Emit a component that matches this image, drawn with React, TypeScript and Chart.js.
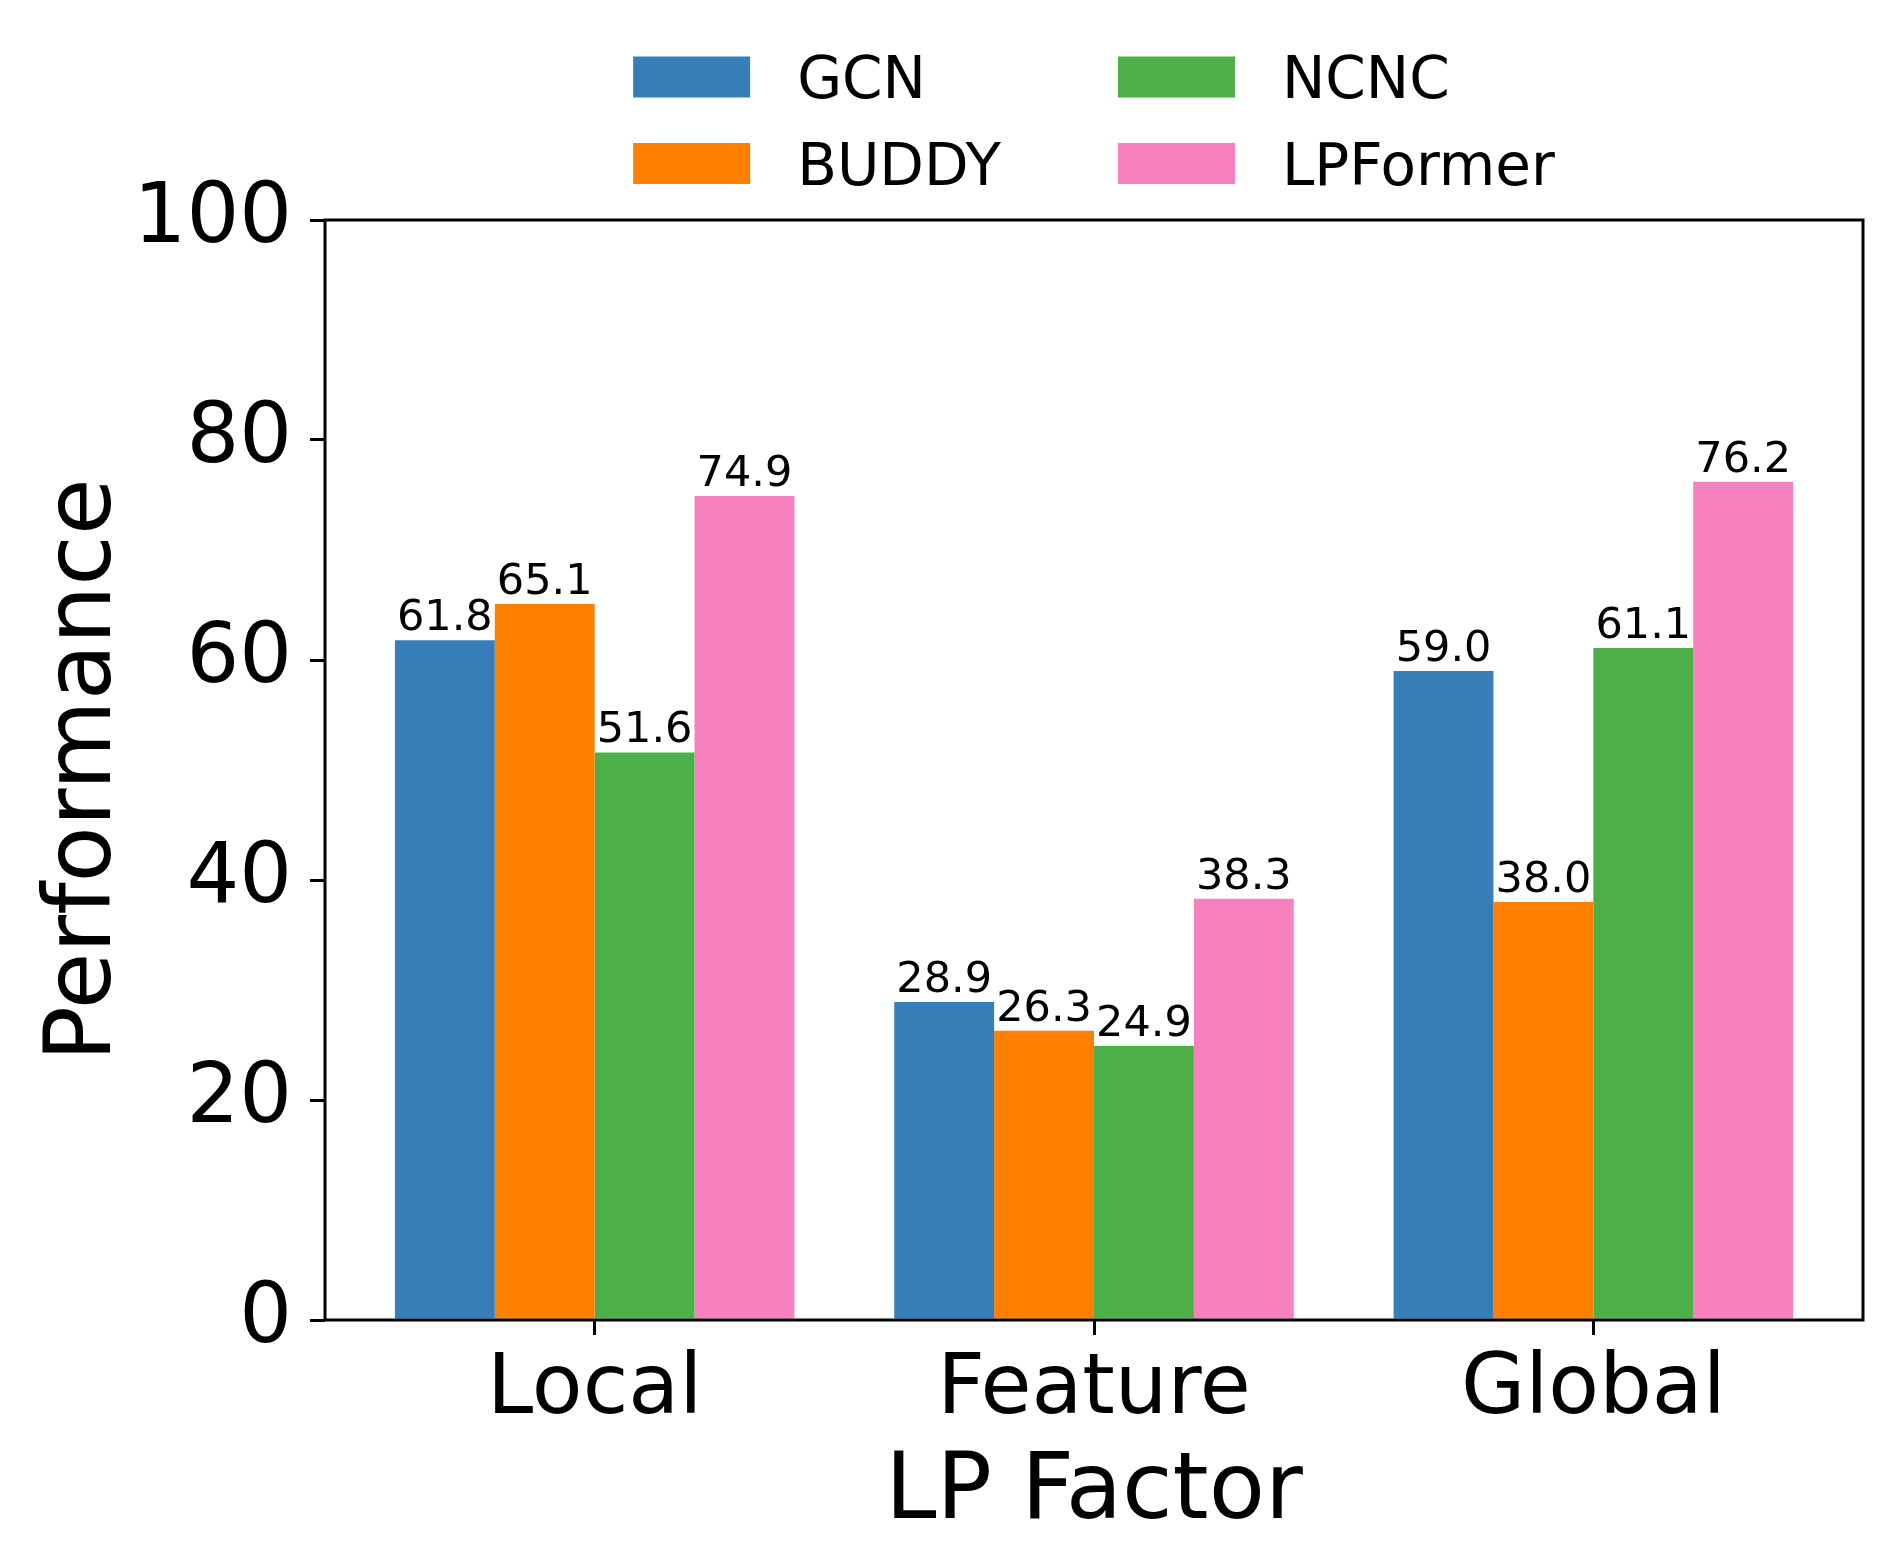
import React, { useEffect, useRef } from "react";
import { Chart, registerables } from "chart.js";

Chart.register(...registerables);

const factors = ["Local", "Feature", "Global"];
const methods = ["GCN", "BUDDY", "NCNC", "LPFormer"];
const colors = ["#377eb8", "#ff7f00", "#4daf4a", "#f781bf"];

const gcn = [61.8, 28.9, 59.0];
const buddy = [65.1, 26.3, 38.0];
const ncnc = [51.6, 24.9, 61.1];
const lpformer = [74.9, 38.3, 76.2];

const yTicks = [0, 20, 40, 60, 80, 100];

const FONT = "'DejaVu Sans', sans-serif";
const W = 1892;
const H = 1567;

// value on top of each bar, like bar_label
const barLabels = {
  id: "barLabels",
  afterDatasetsDraw(chart: any) {
    const ctx = chart.ctx;
    ctx.save();
    ctx.font = `43px ${FONT}`;
    ctx.fillStyle = "#000";
    ctx.textAlign = "center";
    ctx.textBaseline = "alphabetic";
    chart.data.datasets.forEach((ds: any, i: number) => {
      const meta = chart.getDatasetMeta(i);
      meta.data.forEach((el: any, j: number) => {
        ctx.fillText(ds.data[j].y.toFixed(1), el.x, el.y - 10);
      });
    });
    ctx.restore();
  },
};

// box around the plot area, drawn over the bars
const frame = {
  id: "frame",
  afterDatasetsDraw(chart: any) {
    const { ctx, chartArea } = chart;
    ctx.save();
    ctx.strokeStyle = "#000";
    ctx.lineWidth = 3;
    ctx.strokeRect(
      chartArea.left,
      chartArea.top,
      chartArea.right - chartArea.left,
      chartArea.bottom - chartArea.top
    );
    ctx.restore();
  },
};

// two-column legend above the axes (column-major like matplotlib ncol=2)
const twoColLegend = {
  id: "twoColLegend",
  afterDraw(chart: any) {
    const { ctx, chartArea } = chart;
    const fs = 58;
    const handleLen = 117;
    const handleH = 41;
    const textPad = 47;
    const colSpace = 117;
    const rowY = [77, 163.5];
    const ds = chart.data.datasets;
    ctx.save();
    ctx.font = `${fs}px ${FONT}`;
    const cols = [
      [0, 1],
      [2, 3],
    ];
    const colW = cols.map(
      (c) =>
        handleLen +
        textPad +
        Math.max(...c.map((k) => ctx.measureText(ds[k].label).width))
    );
    const total = colW[0] + colW[1] + colSpace;
    let x = (chartArea.left + chartArea.right) / 2 - total / 2;
    cols.forEach((c, ci) => {
      c.forEach((k, ri) => {
        const cy = rowY[ri];
        ctx.fillStyle = ds[k].backgroundColor;
        ctx.fillRect(x, cy - handleH / 2, handleLen, handleH);
        ctx.fillStyle = "#000";
        ctx.textAlign = "left";
        ctx.textBaseline = "alphabetic";
        ctx.fillText(ds[k].label, x + handleLen + textPad, cy + fs * 0.3645);
      });
      x += colW[ci] + colSpace;
    });
    ctx.restore();
  },
};

const App: React.FC = () => {
  const canvasRef = useRef<HTMLCanvasElement>(null);

  useEffect(() => {
    if (!canvasRef.current) return;
    const ctx = canvasRef.current.getContext("2d");
    if (!ctx) return;

    const series = [gcn, buddy, ncnc, lpformer];

    const chart = new Chart(ctx, {
      type: "bar",
      data: {
        datasets: series.map((vals, i) => ({
          label: methods[i],
          data: vals.map((v, j) => ({ x: j, y: v })),
          backgroundColor: colors[i],
          borderWidth: 0,
          categoryPercentage: 0.8,
          barPercentage: 1.0,
        })),
      },
      options: {
        animation: false,
        responsive: false,
        devicePixelRatio: 1,
        layout: {
          padding: { top: 220, right: 29, left: 0, bottom: 0 },
        },
        plugins: {
          legend: { display: false },
          tooltip: { enabled: false },
        },
        scales: {
          x: {
            type: "linear",
            min: -0.54,
            max: 2.54,
            bounds: "data",
            offset: false,
            afterBuildTicks: (scale: any) => {
              scale.ticks = factors.map((_, i) => ({ value: i }));
            },
            afterFit: (scale: any) => {
              scale.height = 247;
            },
            ticks: {
              color: "#000",
              font: { family: FONT, size: 83 },
              padding: 7,
              maxRotation: 0,
              autoSkip: false,
              callback: (value: any) => factors[value as number] ?? "",
            },
            grid: {
              offset: false,
              drawOnChartArea: false,
              drawTicks: true,
              tickLength: 15,
              color: "#000",
              lineWidth: 3,
            },
            border: { display: false },
            title: {
              display: true,
              text: "LP Factor",
              color: "#000",
              font: { family: FONT, size: 92 },
              padding: { top: 0, bottom: 18 },
            },
          },
          y: {
            min: 0,
            max: 100,
            afterBuildTicks: (scale: any) => {
              scale.ticks = yTicks.map((v) => ({ value: v }));
            },
            afterFit: (scale: any) => {
              scale.width = 325;
            },
            ticks: {
              color: "#000",
              font: { family: FONT, size: 83 },
              padding: 18,
            },
            grid: {
              drawOnChartArea: false,
              drawTicks: true,
              tickLength: 15,
              color: "#000",
              lineWidth: 3,
            },
            border: { display: false },
            title: {
              display: true,
              text: "Performance",
              color: "#000",
              font: { family: FONT, size: 92 },
              padding: { top: 31, bottom: 0 },
            },
          },
        },
      },
      plugins: [barLabels, frame, twoColLegend],
    });

    return () => {
      chart.destroy();
    };
  }, []);

  return (
    <div
      style={{
        position: "absolute",
        left: 0,
        top: 0,
        width: W,
        height: H,
        background: "#fff",
      }}
    >
      <canvas
        ref={canvasRef}
        width={W}
        height={H}
        style={{ display: "block", width: W, height: H }}
      />
    </div>
  );
};

export default App;
